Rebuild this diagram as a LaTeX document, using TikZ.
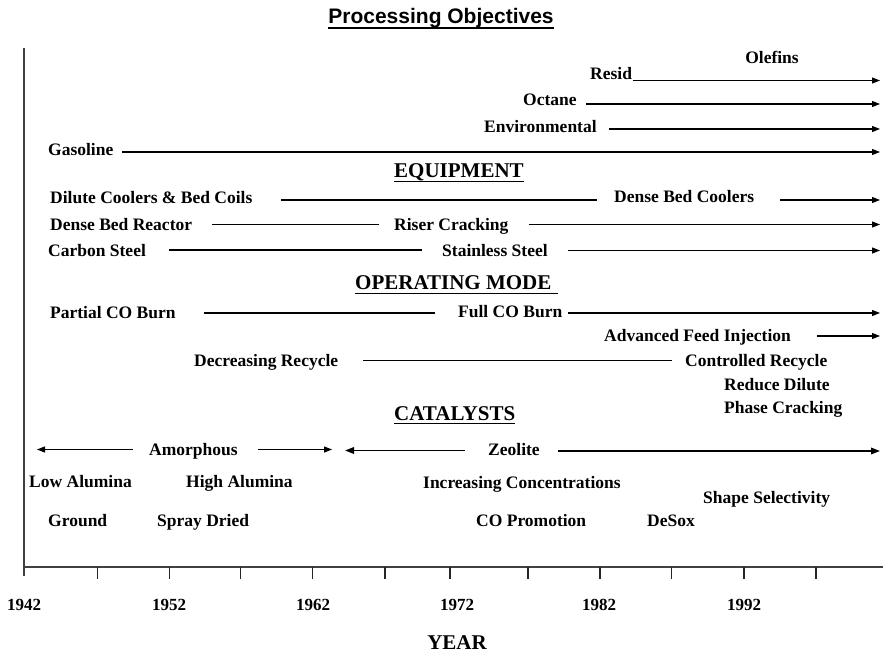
\documentclass[tikz,border=0pt]{standalone}
\usepackage{fontspec}
\setmainfont{Liberation Serif}
\newfontfamily\arialf{Liberation Sans}
\usetikzlibrary{arrows.meta}
\newcommand{\lab}{\fontsize{17.5}{20}\selectfont\bfseries}
\newcommand{\hd}{\fontsize{21}{24}\selectfont\bfseries}
\newcommand{\ttl}{\fontsize{21}{24}\selectfont\arialf\bfseries}
\tikzset{
  lbl/.style={anchor=base west, inner sep=0pt, font=\lab},
  hdr/.style={anchor=base west, inner sep=0pt, font=\hd},
  yr/.style={anchor=base, inner sep=0pt, font=\fontsize{17}{20}\selectfont\bfseries},
  ln/.style={line width=1.1pt},
  arr/.style={line width=1.1pt, -{Triangle[length=8pt,width=6pt]}},
  thk/.style={line width=1.8pt, -{Triangle[length=9pt,width=6.5pt]}},
  ul/.style={line width=1pt},
  axis/.style={line width=1.8pt, draw=black!75},
  tick/.style={line width=1.3pt, draw=black!85},
}
\begin{document}
\begin{tikzpicture}[x=1pt,y=-1pt]
\useasboundingbox (0,0) rectangle (883,655);
% title
\node[anchor=base, inner sep=0pt, font=\ttl] (title) at (441,24) {Processing Objectives};
\draw[line width=1.2pt] ([yshift=-4pt]title.base west) -- ([yshift=-4pt]title.base east);
% axes
\coordinate (vtop) at (24,48);
\coordinate (vbot) at (24,576);
\coordinate (hl) at (24,567);
\coordinate (hr) at (883,567);
\draw[axis] (vtop) -- (vbot);
\draw[axis] (hl) -- (hr);
\foreach \t in {97.7,169.3,240.7,312.7,385,450,528,600,671.7,744,816}
  \draw[tick] (\t,567) -- (\t,579);
\node[yr] (y1942) at (24,610) {1942};
\node[yr] (y1952) at (169,610) {1952};
\node[yr] (y1962) at (313,610) {1962};
\node[yr] (y1972) at (457,610) {1972};
\node[yr] (y1982) at (599,610) {1982};
\node[yr] (y1992) at (744,610) {1992};
\node[anchor=base, inner sep=0pt, font=\fontsize{21}{24}\selectfont\bfseries] (year) at (457,649) {YEAR};
% processing objectives
\node[anchor=base, inner sep=0pt, font=\lab] (olefins) at (772,64) {Olefins};
\node[lbl] (resid) at (590,80) {Resid};
\coordinate (residS) at (633,80.5);
\coordinate (residE) at (880,80.5);
\draw[arr] (residS) -- (residE);
\node[lbl] (octane) at (523,106) {Octane};
\coordinate (octS) at (586,104);
\coordinate (octE) at (880,104);
\draw[arr] (octS) -- (octE);
\node[lbl] (env) at (484,132.5) {Environmental};
\coordinate (envS) at (609,129);
\coordinate (envE) at (880,129);
\draw[arr] (envS) -- (envE);
\node[lbl] (gas) at (48,156) {Gasoline};
\coordinate (gasS) at (122,152);
\coordinate (gasE) at (880,152);
\draw[arr] (gasS) -- (gasE);
% equipment
\node[hdr] (equip) at (394,178) {EQUIPMENT};
\draw[ul] ([yshift=-3.5pt]equip.base west) -- ([yshift=-3.5pt]equip.base east);
\node[lbl] (dilute) at (50,204) {Dilute Coolers \& Bed Coils};
\coordinate (dilS) at (281,200);
\coordinate (dilE) at (597,200);
\draw[ln] (dilS) -- (dilE);
\node[lbl] (dbc) at (614,203) {Dense Bed Coolers};
\coordinate (dbcS) at (780,200);
\coordinate (dbcE) at (880,200);
\draw[arr] (dbcS) -- (dbcE);
\node[lbl] (dbr) at (50,230) {Dense Bed Reactor};
\coordinate (dbrS) at (212,224.5);
\coordinate (dbrE) at (379,224.5);
\draw[ln] (dbrS) -- (dbrE);
\node[lbl] (riser) at (394,230) {Riser Cracking};
\coordinate (riserS) at (529,224.5);
\coordinate (riserE) at (880,224.5);
\draw[arr] (riserS) -- (riserE);
\node[lbl] (carbon) at (48,256) {Carbon Steel};
\coordinate (carS) at (169,250);
\coordinate (carE) at (422,250);
\draw[ln] (carS) -- (carE);
\node[lbl] (stain) at (442,256) {Stainless Steel};
\coordinate (stS) at (568,250.5);
\coordinate (stE) at (880,250.5);
\draw[arr] (stS) -- (stE);
% operating mode
\node[hdr] (opmode) at (355,289.5) {OPERATING MODE};
\draw[ul] ([yshift=-3.5pt]opmode.base west) -- ([yshift=-3.5pt,xshift=6pt]opmode.base east);
\node[lbl] (partial) at (50,318) {Partial CO Burn};
\coordinate (parS) at (204,313);
\coordinate (parE) at (435,313);
\draw[ln] (parS) -- (parE);
\node[lbl] (full) at (458,317.5) {Full CO Burn};
\coordinate (fullS) at (568,313);
\coordinate (fullE) at (880,313);
\draw[arr] (fullS) -- (fullE);
\node[lbl] (afi) at (604,341) {Advanced Feed Injection};
\coordinate (afiS) at (817,336);
\coordinate (afiE) at (880,336);
\draw[arr] (afiS) -- (afiE);
\node[lbl] (decr) at (194,366) {Decreasing Recycle};
\coordinate (decS) at (363,360.5);
\coordinate (decE) at (672,360.5);
\draw[ln] (decS) -- (decE);
\node[lbl] (ctrl) at (685,366) {Controlled Recycle};
\node[lbl] (reduce) at (724,390.5) {Reduce Dilute};
\node[lbl] (phase) at (724,413.5) {Phase Cracking};
% catalysts
\node[hdr] (cat) at (394,420) {CATALYSTS};
\draw[ul] ([yshift=-3.5pt]cat.base west) -- ([yshift=-3.5pt]cat.base east);
\node[lbl] (amor) at (149,455) {Amorphous};
\coordinate (amLS) at (133,449.5);
\coordinate (amLE) at (37,449.5);
\draw[arr] (amLS) -- (amLE);
\coordinate (amRS) at (258,449.5);
\coordinate (amRE) at (332,449.5);
\draw[arr] (amRS) -- (amRE);
\node[lbl] (zeo) at (488,455) {Zeolite};
\coordinate (zLS) at (465,450.5);
\coordinate (zLE) at (345,450.5);
\draw[thk] (zLS) -- (zLE);
\coordinate (zRS) at (558,451);
\coordinate (zRE) at (880,451);
\draw[thk] (zRS) -- (zRE);
\node[lbl] (lowal) at (29,487) {Low Alumina};
\node[lbl] (highal) at (186,487) {High Alumina};
\node[lbl] (incr) at (423,488) {Increasing Concentrations};
\node[lbl] (shape) at (703,503) {Shape Selectivity};
\node[lbl] (ground) at (48,526) {Ground};
\node[lbl] (spray) at (157,526) {Spray Dried};
\node[lbl] (copro) at (476,526) {CO Promotion};
\node[lbl] (desox) at (647,526) {DeSox};
\end{tikzpicture}
\end{document}
